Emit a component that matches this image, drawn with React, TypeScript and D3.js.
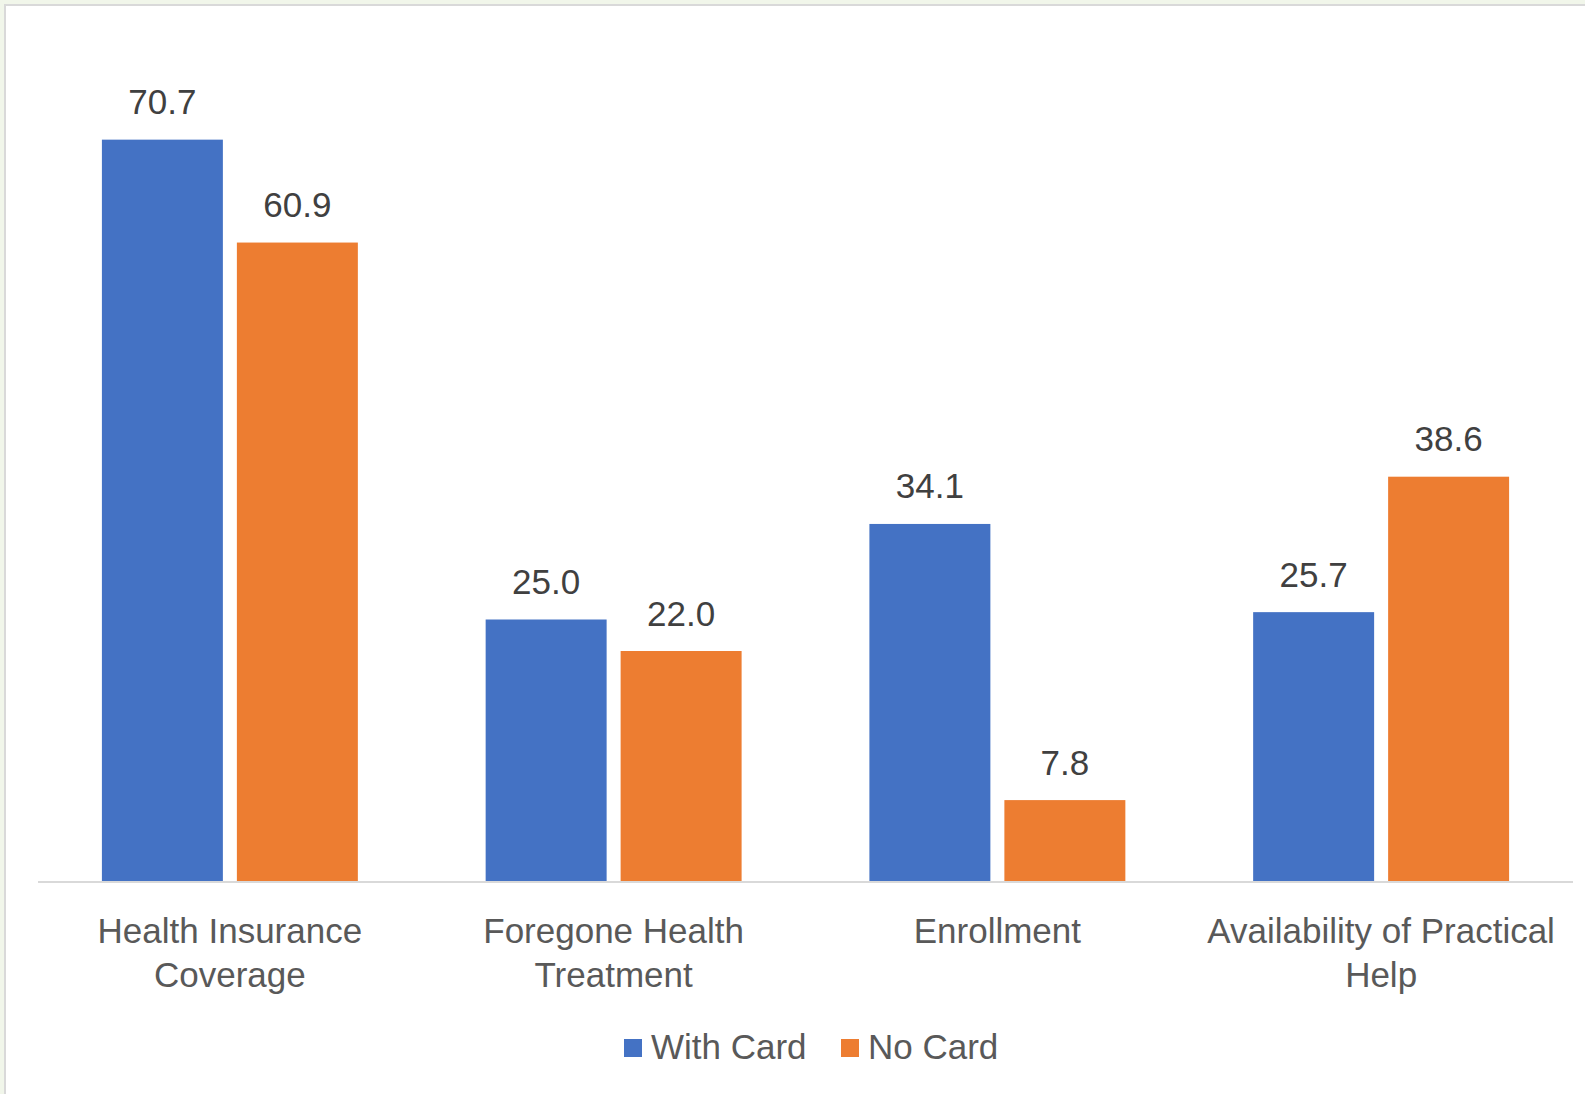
import React from "react";
import * as d3 from "d3";

const categories: string[][] = [
  ["Health Insurance", "Coverage"],
  ["Foregone Health", "Treatment"],
  ["Enrollment"],
  ["Availability of Practical", "Help"],
];
const seriesNames = ["With Card", "No Card"];
const withCard = [70.7, 25.0, 34.1, 25.7];
const noCard = [60.9, 22.0, 7.8, 38.6];
const colors = ["#4472C4", "#ED7D31"];

const W = 1585;
const H = 1094;
const FONT = "'Liberation Sans', Arial, sans-serif";
const TXT = "#595959";

export default function App() {
  const baseY = 882;
  const y = d3.scaleLinear().domain([0, 80]).range([baseY, baseY - 840]);
  const keys = categories.map((c) => c.join(" "));
  const x0 = d3.scaleBand().domain(keys).range([38, 1573]).padding(0);
  const x1 = d3
    .scaleBand()
    .domain(seriesNames)
    .range([63.9, x0.bandwidth() - 63.9])
    .paddingInner(0.1037)
    .paddingOuter(0);
  const data = [withCard, noCard];

  return (
    <svg
      width={W}
      height={H}
      style={{ position: "absolute", left: 0, top: 0, display: "block" }}
      fontFamily={FONT}
    >
      <rect x={0} y={0} width={W} height={H} fill="#f1f6ea" />
      <rect x={5} y={5} width={W + 10} height={H + 10} fill="#ffffff" stroke="#d9d9d9" strokeWidth={2} />
      {keys.map((k, ci) => (
        <g key={k}>
          {seriesNames.map((s, si) => {
            const v = data[si][ci];
            const bx = (x0(k) as number) + (x1(s) as number);
            const bw = x1.bandwidth();
            return (
              <g key={s}>
                <rect x={bx} y={y(v)} width={bw} height={baseY - y(v)} fill={colors[si]} />
                <text
                  x={bx + bw / 2}
                  y={y(v) - 25.5}
                  textAnchor="middle"
                  fontSize={35}
                  fill="#404040"
                >
                  {v.toFixed(1)}
                </text>
              </g>
            );
          })}
          <text x={(x0(k) as number) + x0.bandwidth() / 2} textAnchor="middle" fontSize={35} fill={TXT}>
            {categories[ci].map((line, li) => (
              <tspan key={li} x={(x0(k) as number) + x0.bandwidth() / 2} y={943 + li * 44}>
                {line}
              </tspan>
            ))}
          </text>
        </g>
      ))}
      <line x1={38} x2={1573} y1={baseY} y2={baseY} stroke="#d9d9d9" strokeWidth={2} />
      <g>
        <rect x={624} y={1039} width={18} height={18} fill={colors[0]} />
        <text x={651} y={1059} fontSize={35} fill={TXT}>
          {seriesNames[0]}
        </text>
        <rect x={841} y={1039} width={18} height={18} fill={colors[1]} />
        <text x={868} y={1059} fontSize={35} fill={TXT}>
          {seriesNames[1]}
        </text>
      </g>
    </svg>
  );
}
